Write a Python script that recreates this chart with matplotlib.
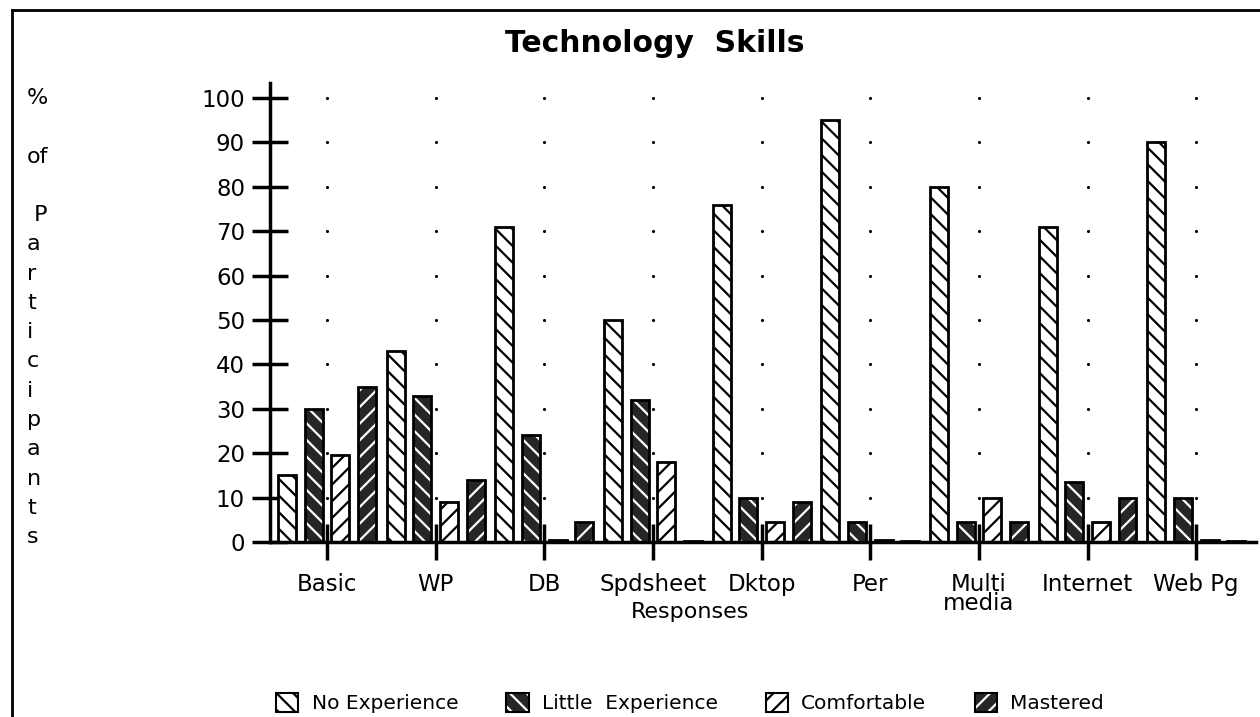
import matplotlib.pyplot as plt
import numpy as np
from matplotlib.patches import Patch
from matplotlib.lines import Line2D

plt.rcParams['font.family'] = ['DejaVu Sans']
plt.rcParams['hatch.linewidth'] = 1.6

categories = ["Basic", "WP", "DB", "Spdsheet", "Dktop", "Per", "Multi\nmedia", "Internet", "Web Pg"]
no_experience = [15, 43, 71, 50, 76, 95, 80, 71, 90]
little_experience = [30, 33, 24, 32, 10, 4.5, 4.5, 13.5, 10]
comfortable = [19.5, 9, 0.5, 18, 4.5, 0.5, 10, 4.5, 0.5]
mastered = [35, 14, 4.5, 0.3, 9, 0.3, 4.5, 10, 0.3]
series_names = ["No Experience", "Little  Experience", "Comfortable", "Mastered"]
yticks = list(range(0, 101, 10))
ylabel_text = "%\n\nof\n\n P\na\nr\nt\ni\nc\ni\np\na\nn\nt\ns"

series = [no_experience, little_experience, comfortable, mastered]
fills = ['white', '#262626', 'white', '#262626']
hatch_cols = ['black', 'white', 'black', 'white']
hatches = ['\\\\', '\\\\', '//', '//']

W, H = 1260, 717
fig = plt.figure(figsize=(W / 100, H / 100), dpi=100)
ax = fig.add_axes([270 / W, 1 - 542 / H, 986 / W, (542 - 83) / H])

x = np.arange(len(categories))
step = 0.245
bw = 0.165
handles = []
for k, vals in enumerate(series):
    pos = x + (k - 1.5) * step
    ax.bar(pos, vals, bw, color=fills[k], edgecolor=hatch_cols[k], hatch=hatches[k],
           linewidth=0, zorder=2)
    ax.bar(pos, vals, bw, fill=False, edgecolor='black', linewidth=2, zorder=3)
    handles.append((Patch(facecolor=fills[k], edgecolor=hatch_cols[k], hatch=hatches[k], linewidth=0),
                    Patch(fill=False, edgecolor='black', linewidth=1.5)))

# dotted grid at category centres
gx, gy = np.meshgrid(x, yticks[1:])
ax.scatter(gx.ravel(), gy.ravel(), s=5, color='black', zorder=1, linewidths=0)

ax.set_xlim(-0.525, 8.55)
ax.set_ylim(0, 103.4)
ax.set_yticks(yticks)
ax.set_xticks(x)
ax.set_xticklabels(categories, fontsize=16.5, linespacing=0.8)
ax.tick_params(axis='y', labelsize=16.5, pad=5)
ax.tick_params(direction='inout', length=26, width=2.5)
ax.tick_params(axis='x', pad=9)
for s in ['top', 'right']:
    ax.spines[s].set_visible(False)
for s in ['left', 'bottom']:
    ax.spines[s].set_linewidth(2.5)

fig.text(655 / W, 1 - 43 / H, "Technology  Skills", ha='center', va='center',
         fontsize=21.5, fontweight='bold')
fig.text(690 / W, 1 - 612 / H, "Responses", ha='center', va='center', fontsize=16)

for i, ch in enumerate(ylabel_text.split("\n")):
    fig.text(27 / W, 1 - (98 + i * 29.27) / H, ch, ha='left', va='center', fontsize=16)

fig.legend(handles, series_names, loc='center', bbox_to_anchor=(690 / W, 1 - 703 / H),
           ncol=4, frameon=False, fontsize=14.5, handlelength=1.1, handleheight=1.1,
           handletextpad=0.65, columnspacing=2.4)

fig.add_artist(Line2D([12 / W, 1], [1 - 10 / H] * 2, transform=fig.transFigure, color='black', lw=2))
fig.add_artist(Line2D([12 / W] * 2, [0, 1 - 10 / H], transform=fig.transFigure, color='black', lw=2))

fig.savefig("out.png", dpi=100)
